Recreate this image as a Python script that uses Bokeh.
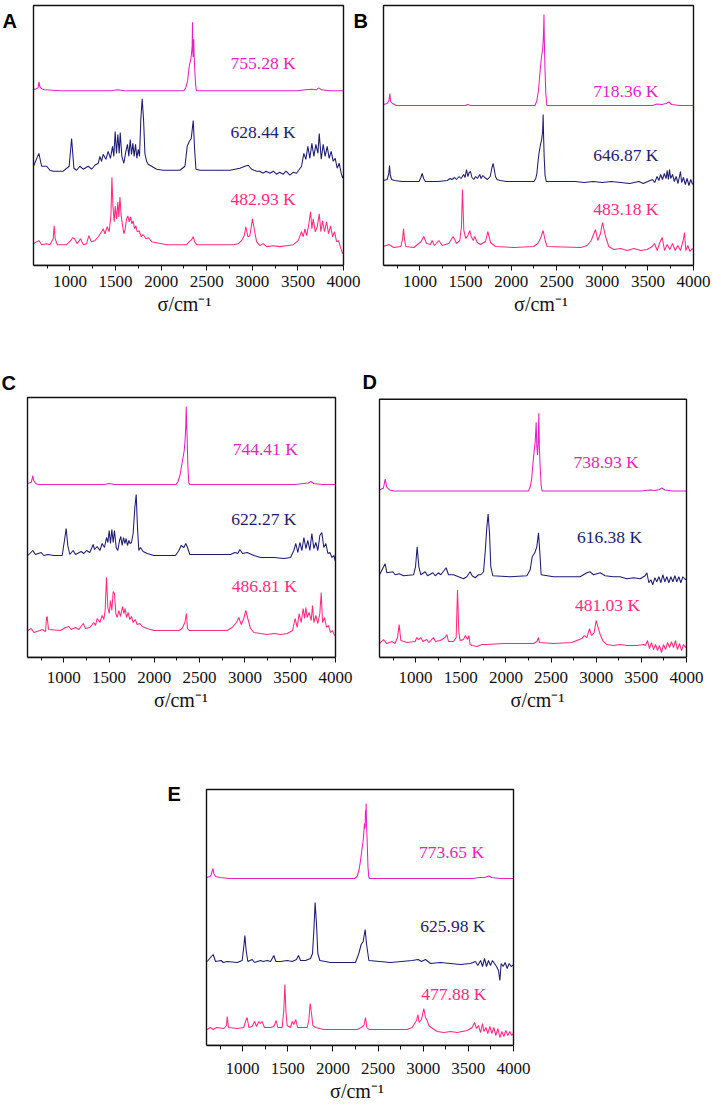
from bokeh.plotting import figure
from bokeh.layouts import column, row
from bokeh.models import FixedTicker, Label, Range1d, BoxAnnotation
from bokeh.embed import file_html
from bokeh.resources import INLINE

# ---------------- data (wavenumber cm-1, relative intensity) ----------------
X_MAJOR = [1000, 1500, 2000, 2500, 3000, 3500, 4000]
X_MINOR = [750, 1250, 1750, 2250, 2750, 3250, 3750]
X_MIN, X_MAX = 600, 4000

A_labels = ["755.28 K", "628.44 K", "482.93 K"]
A_base = [176, 96, 21]
A_top = [(600,1),(630,2),(650,3),(660,9),(670,4),(690,2),(720,1),(900,0),(1450,0),(1520,1),(1600,0),
         (2249,0),(2270,3),(2290,10),(2307,24),(2325,32),(2333,37),(2340,45),(2344,69),(2348,40),(2351,34),
         (2355,45),(2358,52),(2362,35),(2369,21),(2378,6),(2387,0),(3500,0),(3580,1),(3650,1.5),(3700,1),
         (3729,3),(3760,1),(3850,0),(4000,0)]
A_mid = [(600,4),(659,17),(689,4),(745,4),(780,0),(816,-1),(926,-1),(991,4),(1018,32),(1043,2),(1073,0),
         (1109,4),(1145,1),(1200,4),(1237,1),(1273,5),(1310,7),(1328,14),(1346,9),(1364,16),(1394,11),
         (1419,19),(1444,12),(1467,24),(1481,14),(1496,39),(1510,17),(1525,36),(1540,17),(1551,38),(1569,14),
         (1591,7),(1613,19),(1631,26),(1646,14),(1661,31),(1675,16),(1690,27),(1704,14),(1719,26),(1734,12),
         (1748,21),(1763,14),(1777,51),(1792,72),(1807,51),(1822,17),(1840,9),(1858,6),(1895,4),(1950,1),
         (2023,0),(2206,0),(2261,4),(2286,24),(2308,29),(2330,32),(2352,50),(2367,21),(2382,1),(2426,0),
         (2755,0),(2864,2),(2919,4),(2955,5),(2992,1),(3047,-1),(3080,-1),(3120,-3),(3150,-1),(3193,-3),
         (3230,-1),(3266,-4),(3300,-2),(3339,-4),(3370,-1),(3412,-5),(3450,-2),(3485,-3),(3540,4),(3565,17),
         (3587,11),(3609,24),(3631,12),(3653,27),(3675,14),(3697,26),(3719,17),(3734,37),(3756,11),(3777,26),
         (3799,14),(3821,24),(3843,12),(3865,19),(3887,9),(3909,12),(3931,2),(3953,7),(3975,-3),(3990,-8),
         (4000,-5)]
A_bot = [(600,1),(634,3),(662,4),(689,0),(744,1),(780,0),(816,6),(827,19),(838,6),(860,0),(963,0),(1007,4),
         (1029,7),(1051,6),(1079,1),(1116,6),(1145,0),(1182,1),(1208,9),(1233,3),(1273,4),(1310,8),(1347,13),
         (1365,16),(1383,11),(1408,18),(1430,13),(1449,29),(1460,68),(1471,39),(1485,23),(1496,39),(1511,26),
         (1525,43),(1536,28),(1548,48),(1562,29),(1577,19),(1591,11),(1606,16),(1621,26),(1635,29),(1650,23),
         (1665,28),(1679,21),(1693,24),(1708,16),(1723,19),(1737,13),(1759,14),(1781,8),(1803,10),(1833,6),
         (1862,7),(1895,3),(1950,2),(2060,0),(2279,0),(2308,3),(2334,5),(2352,8),(2367,3),(2389,0),(2790,0),
         (2845,1),(2882,4),(2911,9),(2929,18),(2951,8),(2973,9),(3002,26),(3024,14),(3047,3),(3083,-1),
         (3119,1),(3156,-2),(3229,-1),(3302,-2),(3376,-1),(3449,0),(3503,4),(3540,13),(3558,8),(3577,16),
         (3595,9),(3617,19),(3639,33),(3653,16),(3668,26),(3690,13),(3712,18),(3734,31),(3752,13),(3770,24),
         (3792,13),(3814,23),(3836,11),(3858,19),(3880,8),(3902,13),(3924,3),(3946,4),(3968,-3),(3990,-9),
         (4000,-8)]

B_labels = ["718.36 K", "646.87 K", "483.18 K"]
B_base = [160, 84, 18]
B_top = [(600,1),(640,2),(660,5),(669,12),(678,4),(700,2),(740,0),(1500,0),(1520,1),(1560,0),(2260,0),
         (2280,4),(2300,15),(2318,35),(2332,48),(2345,56),(2352,65),(2357,78),(2360,91),(2364,66),(2370,40),
         (2380,12),(2392,0),(3550,0),(3600,1.5),(3650,1),(3700,2),(3729,3.5),(3760,1),(3850,0),(4000,0)]
B_mid = [(600,1),(640,2),(658,8),(666,16),(675,6),(690,2),(720,1),(800,0),(990,0),(1010,4),(1024,8),(1040,3),
         (1060,0),(1200,0),(1300,1),(1330,3),(1350,2),(1380,4),(1400,2),(1430,5),(1450,3),(1480,7),(1495,4),
         (1510,12),(1525,5),(1540,9),(1554,10),(1570,4),(1590,2),(1610,5),(1630,3),(1656,7),(1670,3),(1690,6),
         (1710,4),(1740,2),(1770,5),(1790,14),(1803,18),(1815,12),(1828,5),(1845,2),(1880,1),(1950,0),(2250,0),
         (2270,3),(2282,8),(2295,20),(2305,28),(2322,37),(2335,42),(2345,50),(2351,67),(2356,45),(2362,25),
         (2372,6),(2385,0),(2700,0),(2800,-1),(2900,0),(3000,-1),(3100,0),(3200,-1),(3300,-2),(3400,0),
         (3450,-2),(3500,0),(3550,2),(3575,-1),(3600,5),(3620,1),(3640,7),(3660,2),(3680,8),(3700,3),(3711,11),
         (3725,2),(3737,12),(3750,3),(3770,7),(3790,0),(3810,5),(3830,-2),(3857,10),(3870,-1),(3890,4),
         (3910,-3),(3930,3),(3950,-4),(3970,2),(3986,-2),(4000,-3)]
B_bot = [(600,1),(658,3),(713,0),(790,1),(808,8),(820,19),(830,8),(845,1),(933,0),(1013,6),(1042,11),(1072,4),
         (1115,3),(1134,7),(1159,2),(1207,7),(1244,2),(1316,4),(1364,11),(1401,4),(1437,7),(1455,21),(1466,58),
         (1481,17),(1503,9),(1525,12),(1547,17),(1562,11),(1584,7),(1602,11),(1628,5),(1664,3),(1719,6),
         (1744,16),(1774,5),(1828,1),(2029,0),(2248,1),(2292,4),(2322,9),(2351,17),(2373,7),(2395,1),(2761,0),
         (2834,2),(2878,7),(2925,18),(2950,7),(2980,14),(3002,25),(3035,11),(3071,1),(3126,-2),(3199,-1),
         (3273,-3),(3346,-1),(3419,-3),(3492,-2),(3547,1),(3572,4),(3602,-3),(3631,5),(3657,10),(3682,-3),
         (3711,3),(3740,-2),(3770,4),(3799,-3),(3828,2),(3857,-3),(3887,7),(3901,15),(3916,-3),(3938,2),
         (3960,-4),(3986,-1),(4000,-3)]

C_labels = ["744.41 K", "622.27 K", "486.81 K"]
C_base = [173, 102, 27]
C_top = [(600,1),(640,2),(650,5),(659,9),(668,4),(690,1),(720,0),(1450,0),(1500,1),(1560,0),(2240,0),
         (2262,3),(2285,10),(2300,18),(2315,26),(2330,34),(2340,45),(2347,58),(2352,78),(2357,60),(2362,48),
         (2370,20),(2380,2),(2390,0),(3550,0),(3650,1),(3700,1.5),(3731,3),(3760,1),(3850,0),(4000,0)]
C_mid = [(604,0),(659,5),(688,1),(751,3),(780,0),(825,1),(891,0),(983,0),(1008,15),(1027,27),(1045,10),
         (1067,1),(1104,5),(1130,1),(1192,4),(1222,2),(1251,5),(1288,3),(1325,11),(1340,6),(1369,9),(1399,5),
         (1424,12),(1450,8),(1472,18),(1487,13),(1502,25),(1516,12),(1531,26),(1546,13),(1560,25),(1579,8),
         (1597,5),(1616,15),(1630,19),(1645,10),(1660,18),(1675,12),(1689,17),(1704,10),(1719,15),(1733,12),
         (1748,13),(1766,22),(1785,48),(1800,61),(1814,28),(1829,5),(1847,8),(1877,4),(1921,2),(1995,0),
         (2234,0),(2271,5),(2296,10),(2326,8),(2348,12),(2370,7),(2392,1),(2841,1),(2889,3),(2922,2),(2944,6),
         (2974,2),(3025,3),(3099,0),(3172,-2),(3246,-2),(3320,-2),(3430,-3),(3504,-2),(3540,5),(3562,12),
         (3584,3),(3607,13),(3629,5),(3651,18),(3673,7),(3695,15),(3717,5),(3739,22),(3761,7),(3783,13),
         (3805,5),(3827,20),(3849,23),(3871,8),(3894,12),(3916,2),(3938,3),(3960,-2),(3982,0),(3996,-5),
         (4000,-4)]
C_bot = [(604,0),(641,2),(670,-2),(736,0),(762,1),(799,-1),(810,13),(817,14),(832,1),(964,0),(1020,3),(1056,4),
         (1082,1),(1130,3),(1167,1),(1215,7),(1240,2),(1288,3),(1332,8),(1351,5),(1369,12),(1399,8),(1424,15),
         (1443,11),(1457,20),(1472,53),(1487,23),(1502,17),(1516,30),(1531,20),(1546,39),(1560,37),(1575,17),
         (1590,13),(1608,20),(1627,14),(1649,24),(1664,17),(1678,22),(1693,13),(1711,18),(1730,11),(1748,14),
         (1766,8),(1789,11),(1811,6),(1840,7),(1866,4),(1921,2),(1995,0),(2271,0),(2307,2),(2337,8),(2355,17),
         (2366,2),(2385,0),(2804,0),(2859,3),(2907,8),(2933,13),(2959,6),(2988,12),(3010,20),(3032,12),(3062,2),
         (3099,-2),(3172,-3),(3246,-4),(3320,-3),(3393,-4),(3467,-3),(3526,0),(3555,12),(3577,3),(3599,17),
         (3621,8),(3643,22),(3658,12),(3673,23),(3687,13),(3709,18),(3732,10),(3746,25),(3761,8),(3783,15),
         (3805,7),(3827,17),(3842,38),(3857,8),(3879,13),(3901,3),(3923,5),(3945,-2),(3967,0),(3989,-5),
         (4000,-4)]

D_labels = ["738.93 K", "616.38 K", "481.03 K"]
D_base = [167, 82, 15]
D_top = [(600,1),(644,3),(663,12),(681,4),(711,1),(760,0),(1500,0),(2250,0),(2269,4),(2285,12),(2300,28),
         (2315,42),(2325,50),(2335,69),(2342,45),(2350,36),(2358,50),(2365,78),(2370,45),(2379,25),(2390,6),
         (2400,0),(3500,0),(3598,1),(3650,0.5),(3700,1.5),(3727,3),(3760,1),(3850,0),(4000,0)]
D_mid = [(600,1),(663,12),(681,3),(748,4),(773,1),(818,2),(866,0),(977,1),(999,9),(1017,29),(1036,9),(1058,1),
         (1106,4),(1132,0),(1191,3),(1217,0),(1253,3),(1279,1),(1338,8),(1364,1),(1420,1),(1475,-1),(1530,-3),
         (1567,-1),(1604,4),(1626,0),(1660,-2),(1696,1),(1722,1),(1752,4),(1770,23),(1789,49),(1803,62),
         (1818,43),(1833,9),(1855,0),(2047,-1),(2232,0),(2269,6),(2291,19),(2320,23),(2342,29),(2361,43),
         (2376,23),(2390,1),(2527,-1),(2822,-1),(2859,1),(2896,3),(2933,4),(2970,1),(3044,3),(3099,0),(3191,-1),
         (3265,-1),(3339,-3),(3413,-2),(3487,-3),(3542,0),(3561,3),(3583,-7),(3605,-4),(3627,-9),(3649,-2),
         (3671,-6),(3694,-1),(3716,-7),(3738,1),(3760,-6),(3782,-1),(3804,-7),(3827,-1),(3849,-6),(3871,0),
         (3893,-6),(3915,-1),(3937,-7),(3960,-1),(3989,-4),(4000,-3)]
D_bot = [(600,-1),(644,3),(681,-1),(737,1),(773,-1),(799,5),(818,18),(836,2),(903,0),(995,1),(1013,5),(1036,3),
         (1058,5),(1080,1),(1124,3),(1146,0),(1198,5),(1220,1),(1272,2),(1327,5),(1346,8),(1364,1),(1420,1),
         (1449,5),(1464,53),(1479,10),(1493,2),(1530,3),(1552,7),(1575,3),(1589,7),(1604,-2),(1626,-3),
         (1678,-4),(1733,-2),(1789,-2),(1973,-1),(2306,-1),(2343,1),(2361,5),(2372,0),(2527,-1),(2730,0),
         (2785,2),(2841,4),(2867,7),(2896,5),(2926,14),(2948,7),(2977,10),(3000,22),(3022,15),(3044,8),(3073,2),
         (3118,-2),(3192,-3),(3265,-2),(3339,-3),(3450,-3),(3524,-2),(3546,-3),(3568,2),(3590,-6),(3612,0),
         (3635,-7),(3657,-2),(3679,-8),(3701,-3),(3723,-10),(3745,-2),(3768,-7),(3790,0),(3812,-5),(3834,1),
         (3856,-5),(3878,2),(3900,-7),(3923,-1),(3945,-8),(3967,-2),(3989,-5),(4000,-4)]

E_labels = ["773.65 K", "625.98 K", "477.88 K"]
E_base = [167, 83, 16]
E_top = [(600,1),(640,2),(652,4),(672,10),(680,5),(700,2),(750,1),(850,0),(2240,0),(2269,2),(2290,9),
         (2306,18),(2320,28),(2335,38),(2344,48),(2350,55),(2356,50),(2361,68),(2365,60),(2368,75),(2372,55),
         (2379,38),(2388,12),(2398,1),(2410,0),(3550,0),(3620,1),(3680,1),(3727,2.5),(3760,1),(3850,0),(4000,0)]
E_mid = [(607,1),(674,8),(700,1),(762,2),(785,0),(829,1),(940,0),(995,2),(1013,16),(1025,27),(1039,12),
         (1058,1),(1106,3),(1132,0),(1198,2),(1228,1),(1272,2),(1309,1),(1346,7),(1368,1),(1420,1),(1493,2),
         (1549,1),(1597,3),(1619,7),(1641,2),(1696,2),(1752,4),(1774,9),(1789,32),(1803,60),(1818,39),
         (1833,9),(1855,2),(1973,0),(2250,0),(2287,9),(2313,18),(2335,21),(2357,33),(2372,19),(2398,2),
         (2638,0),(2878,2),(2944,3),(2981,1),(3025,3),(3081,-1),(3192,0),(3302,-1),(3413,-2),(3524,-1),
         (3579,1),(3605,-3),(3635,2),(3657,-4),(3679,4),(3701,-4),(3723,2),(3745,-3),(3767,2),(3790,-1),
         (3812,-4),(3834,-8),(3849,-18),(3863,-1),(3885,-4),(3908,0),(3930,-6),(3952,-1),(3974,-4),(3989,-3),
         (4000,-2)]
E_bot = [(607,0),(644,2),(674,0),(711,2),(792,1),(822,4),(829,13),(844,2),(940,1),(1013,2),(1036,9),(1050,12),
         (1069,2),(1106,3),(1132,8),(1154,3),(1180,8),(1198,6),(1216,8),(1242,2),(1309,2),(1346,3),(1372,9),
         (1390,2),(1438,2),(1456,19),(1468,45),(1479,19),(1493,4),(1530,2),(1549,8),(1567,5),(1589,10),
         (1608,2),(1660,2),(1715,2),(1733,9),(1748,26),(1763,16),(1778,4),(1807,2),(1900,0),(2269,0),(2313,2),
         (2343,4),(2361,12),(2376,2),(2398,0),(2822,0),(2878,2),(2904,6),(2926,9),(2941,15),(2955,7),(2981,10),
         (3007,21),(3025,12),(3044,9),(3062,4),(3088,2),(3155,-2),(3228,-3),(3302,-2),(3376,-3),(3487,-1),
         (3542,2),(3568,7),(3590,1),(3612,4),(3635,-3),(3657,6),(3671,-2),(3694,2),(3716,-4),(3738,3),
         (3760,-4),(3782,2),(3804,-6),(3827,1),(3849,-8),(3871,-2),(3893,-7),(3915,-1),(3937,-6),(3959,-2),
         (3981,-6),(3996,-4),(4000,-3)]

# ---------------- styling ----------------
COLORS = ["#E81FC4", "#1C1C72", "#FF2A7F"]
SERIF = "Liberation Serif"
SANS = "Liberation Sans"
X_TITLE = "σ/cm⁻¹"
INK = "#111111"


def panel(W, H, box, letters, series, bases, labels, label_px,
          tick_out=5, standoff=5, title_standoff=3):
    """box = (left, top, right, bottom) of the spectrum frame in canvas pixels.
    The plotting frame covers the canvas above the x axis so that the panel
    letters can sit outside the drawn box."""
    bl, bt, br, bb = box
    s = (X_MAX - X_MIN) / (br - bl)           # data units per pixel
    fh = bb                                   # frame height (frame top = canvas top)
    x0 = X_MIN - bl * s
    x1 = X_MAX + (W - br) * s
    p = figure(width=W, height=H, x_range=Range1d(x0, x1), y_range=Range1d(0, fh),
               output_backend="svg", toolbar_location=None, y_axis_location=None,
               min_border_left=0, min_border_right=0, min_border_top=0,
               min_border_bottom=H - bb)
    p.outline_line_color = None
    p.grid.visible = False
    p.background_fill_color = "white"
    p.border_fill_color = "white"

    ax = p.xaxis[0]
    ax.bounds = (X_MIN, X_MAX)
    ax.ticker = FixedTicker(ticks=X_MAJOR, minor_ticks=X_MINOR)
    ax.axis_line_color = INK
    ax.axis_line_width = 1.4
    ax.major_tick_in = 0
    ax.major_tick_out = tick_out
    ax.minor_tick_in = 0
    ax.minor_tick_out = tick_out - 2
    ax.major_tick_line_color = INK
    ax.minor_tick_line_color = INK
    ax.major_label_standoff = standoff
    ax.major_label_text_font = SERIF
    ax.major_label_text_font_size = "17px"
    ax.major_label_text_color = INK
    ax.axis_label = X_TITLE
    ax.axis_label_text_font = SERIF
    ax.axis_label_text_font_size = "20px"
    ax.axis_label_text_font_style = "normal"
    ax.axis_label_text_color = INK
    ax.axis_label_standoff = title_standoff

    # the frame box of the spectrum
    p.add_layout(BoxAnnotation(left=X_MIN, right=X_MAX, bottom=0, top=bb - bt,
                               fill_alpha=0, line_color=INK, line_alpha=1.0,
                               line_width=1.4, level="overlay"))

    for data, base, col in zip(series, bases, COLORS):
        xs = [d[0] for d in data]
        ys = [base + d[1] for d in data]
        p.line(xs, ys, line_color=col, line_width=1.05)

    for txt, (lx, ly), col in zip(labels, label_px, COLORS):
        p.add_layout(Label(x=lx, y=ly, text=txt, text_color=col, text_font=SERIF,
                           text_font_size="17.5px", text_align="center", text_baseline="middle"))

    for txt, px, py in letters:
        p.add_layout(Label(x=x0 + px * s, y=fh - py, text=txt, text_font=SANS,
                           text_font_size="20px", text_font_style="bold", text_color="black",
                           text_align="left", text_baseline="alphabetic"))
    return p


# Row 1 (A, B): canvas y 0..335 ; the "B" letter is drawn inside A's canvas
pA = panel(368, 335, (33, 5, 343, 267), [("A", 2, 21), ("B", 353, 21)],
           [A_top, A_mid, A_bot], A_base, A_labels,
           [(3118, 204), (3118, 135), (3118, 67)])
pB = panel(345, 335, (15, 5, 325, 265), [],
           [B_top, B_mid, B_bot], B_base, B_labels,
           [(3258, 175), (3258, 111), (3258, 57)])
# Row 2 (C, D): canvas y 335..760
pC = panel(361, 425, (27, 62, 335, 322), [("C", 1, 47)],
           [C_top, C_mid, C_bot], C_base, C_labels,
           [(3225, 209), (3209, 139), (3213, 72)], standoff=9, title_standoff=3)
pD = panel(352, 425, (18, 64, 325, 323), [("D", 1, 47)],
           [D_top, D_mid, D_bot], D_base, D_labels,
           [(3110, 196), (3147, 121), (3125, 53)], standoff=9, title_standoff=3)
# Row 3 (E): canvas y 760..1105
pE = panel(713, 345, (206, 29, 513, 285), [("E", 167, 33)],
           [E_top, E_mid, E_bot], E_base, E_labels,
           [(3313, 194), (3328, 120), (3340, 52)], tick_out=6, standoff=11, title_standoff=3)

root = column(row(pA, pB), row(pC, pD), pE)

open("out.html", "w").write(file_html(root, INLINE))
